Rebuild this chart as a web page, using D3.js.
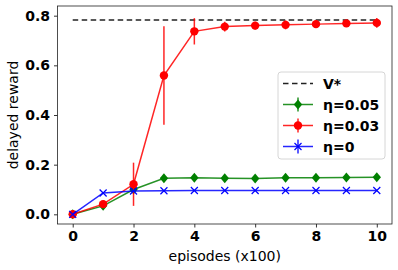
<!DOCTYPE html>
<html><head><meta charset="utf-8">
<script src="https://cdn.jsdelivr.net/npm/d3@7"></script>
<style>body{margin:0;background:#fff}svg{display:block}</style>
</head><body>
<script>
const episodes = [0,1,2,3,4,5,6,7,8,9,10];
const vStar = 0.783;
const eta005 = [0,0.034,0.100,0.145,0.147,0.145,0.144,0.147,0.147,0.148,0.149];
const eta005Err = [0.004,0.006,0.008,0.012,0.012,0.010,0.010,0.014,0.012,0.012,0.012];
const eta003 = [0,0.041,0.121,0.559,0.737,0.756,0.760,0.763,0.766,0.769,0.771];
const eta003Err = [0.004,0.006,0.087,0.198,0.053,0.020,0.016,0.018,0.014,0.010,0.020];
const eta0 = [0,0.086,0.094,0.095,0.096,0.096,0.096,0.096,0.096,0.096,0.096];
const eta0Err = [0,0,0,0,0,0,0,0,0,0,0];
const xTicks = [0,2,4,6,8,10];
const yTicks = [0.0,0.2,0.4,0.6,0.8];

const W=398,H=270;
const m={l:57.5,r:392,t:6,b:224};
const svg=d3.select("body").append("svg").attr("width",W).attr("height",H);
const x=d3.scaleLinear().domain([-0.5,10.5]).range([m.l,m.r]);
const y=d3.scaleLinear().domain([-0.039,0.839]).range([m.b,m.t]);

const tickFont="DejaVu Sans";
const FS=14;
const xa=svg.append("g").attr("transform",`translate(0,${m.b})`)
  .call(d3.axisBottom(x).tickValues(xTicks).tickFormat(d3.format("d")).tickSize(3.5).tickPadding(4));
const ya=svg.append("g").attr("transform",`translate(${m.l},0)`)
  .call(d3.axisLeft(y).tickValues(yTicks).tickFormat(d3.format(".1f")).tickSize(3.5).tickPadding(4));
[xa,ya].forEach(a=>{a.select(".domain").remove();
  a.selectAll("text").attr("font-family",tickFont).attr("font-weight","bold").attr("font-size",FS).attr("fill","#000");
  a.selectAll("line").attr("stroke","#000").attr("stroke-width",0.8);});
svg.append("rect").attr("x",m.l).attr("y",m.t).attr("width",m.r-m.l).attr("height",m.b-m.t)
  .attr("fill","none").attr("stroke","#222").attr("stroke-width",0.8);

svg.append("text").attr("x",(m.l+m.r)/2).attr("y",261).attr("text-anchor","middle")
  .attr("font-family",tickFont).attr("font-size",FS).text("episodes (x100)");
svg.append("text").attr("transform",`translate(18,${(m.t+m.b)/2}) rotate(-90)`).attr("text-anchor","middle")
  .attr("font-family",tickFont).attr("font-size",FS).text("delayed reward");

// V* line
svg.append("line").attr("x1",x(0)).attr("x2",x(10)).attr("y1",y(vStar)).attr("y2",y(vStar))
  .attr("stroke","#222").attr("stroke-width",1.5).attr("stroke-dasharray","5.5,3.5");

const line=d3.line().x((d,i)=>x(episodes[i])).y(d=>y(d));
function marker(g,type,cx,cy,color){
  if(type==="circle") g.append("circle").attr("cx",cx).attr("cy",cy).attr("r",4.2).attr("fill",color);
  else if(type==="diamond") g.append("path").attr("d",`M${cx},${cy-5}L${cx+4.2},${cy}L${cx},${cy+5}L${cx-4.2},${cy}Z`).attr("fill",color);
  else g.append("path").attr("d",`M${cx-3.5},${cy-3.5}L${cx+3.5},${cy+3.5}M${cx-3.5},${cy+3.5}L${cx+3.5},${cy-3.5}`).attr("stroke",color).attr("stroke-width",1.2);
}
const series=[
  {vals:eta005,err:eta005Err,color:"#008000",m:"diamond"},
  {vals:eta003,err:eta003Err,color:"#ff0000",m:"circle"},
  {vals:eta0,err:eta0Err,color:"#0000ff",m:"x"}];
series.forEach(s=>{
  const g=svg.append("g");
  g.append("path").datum(s.vals).attr("d",line).attr("fill","none").attr("stroke",s.color).attr("stroke-width",1.5).attr("opacity",0.85);
  s.vals.forEach((v,i)=>{ if(s.err[i]>0) g.append("line").attr("x1",x(episodes[i])).attr("x2",x(episodes[i]))
    .attr("y1",y(v-s.err[i])).attr("y2",y(v+s.err[i])).attr("stroke",s.color).attr("stroke-width",1.5).attr("opacity",0.85);});
  s.vals.forEach((v,i)=>marker(g,s.m,x(episodes[i]),y(v),s.color));
});

// legend
const lg=svg.append("g");
lg.append("rect").attr("x",278).attr("y",72).attr("width",107).attr("height",87).attr("rx",3)
  .attr("fill","#fff").attr("fill-opacity",0.8).attr("stroke","#ccc").attr("stroke-width",0.8);
const items=[{label:"V*",dash:true},{label:"η=0.05",s:series[0]},{label:"η=0.03",s:series[1]},{label:"η=0",s:series[2]}];
items.forEach((it,i)=>{
  const cy=83.5+i*21;
  if(it.dash) lg.append("line").attr("x1",283).attr("x2",313).attr("y1",cy).attr("y2",cy).attr("stroke","#222").attr("stroke-width",1.5).attr("stroke-dasharray","5.5,3.5");
  else{
    lg.append("line").attr("x1",283).attr("x2",313).attr("y1",cy).attr("y2",cy).attr("stroke",it.s.color).attr("stroke-width",1.5).attr("opacity",0.85);
    lg.append("line").attr("x1",298).attr("x2",298).attr("y1",cy-7).attr("y2",cy+7).attr("stroke",it.s.color).attr("stroke-width",1.5).attr("opacity",0.85);
    marker(lg,it.s.m,298,cy,it.s.color);
  }
  lg.append("text").attr("x",323).attr("y",cy+5).attr("font-family",tickFont).attr("font-weight","bold").attr("font-size",FS).text(it.label);
});
</script>
</body></html>
